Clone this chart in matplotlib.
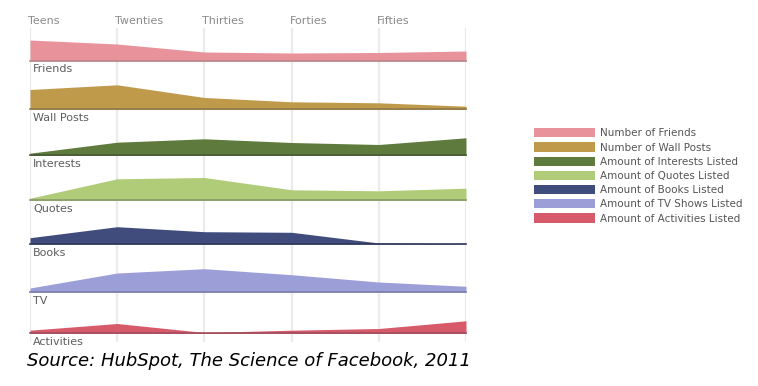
import matplotlib
matplotlib.use("Agg")
import matplotlib.pyplot as plt
from matplotlib.patches import Patch

ages = ["Teens", "Twenties", "Thirties", "Forties", "Fifties", ""]
rows = ["Friends", "Wall Posts", "Interests", "Quotes", "Books", "TV", "Activities"]
legend_names = ["Number of Friends", "Number of Wall Posts", "Amount of Interests Listed",
                "Amount of Quotes Listed", "Amount of Books Listed", "Amount of TV Shows Listed",
                "Amount of Activities Listed"]
friends = [21, 17, 9, 8, 8.5, 10]
wall_posts = [20, 24.7, 12, 7.7, 6.7, 3.3]
interests = [2.3, 13.3, 16.7, 13, 11, 17.7]
quotes = [2.3, 21.7, 23, 10.7, 9.7, 12.3]
books = [6.3, 17.3, 12.3, 11.7, 1, 0.3]
tv = [4, 19, 23.3, 17.3, 10, 5.7]
activities = [3.3, 10, 1, 3.3, 5, 12.7]
series = [friends, wall_posts, interests, quotes, books, tv, activities]

colors = ["#E8939B", "#BE9A4A", "#5E7A3C", "#B0CC78", "#404C7C", "#9C9ED8", "#D65A69"]
edge = ["#B8868A", "#8E7A4E", "#4A5A35", "#8A9A6A", "#30385A", "#7A7CA8", "#A05060"]
baselines = [61, 109.5, 155.5, 200.5, 244, 292, 333.5]

W, H = 758, 386
fig = plt.figure(figsize=(W / 100, H / 100), dpi=100)
x0, x1 = 30, 466

def frac(left, top, w, h):
    return [left / W, 1 - (top + h) / H, w / W, h / H]

# background grid
bg = fig.add_axes(frac(x0, 28, x1 - x0, 314))
bg.set_xlim(0, 5)
bg.set_ylim(0, 1)
bg.axis("off")
for i in range(len(ages)):
    bg.axvline(i, color="#EBEBEB", lw=1.6, zorder=0)
for i, a in enumerate(ages):
    fig.text((x0 + i * (x1 - x0) / 5 - 2) / W, 1 - 21 / H, a, ha="left", va="center",
             fontsize=8, color="#8A8A8A")

band_h = 26
xs = list(range(len(ages)))
for k, vals in enumerate(series):
    ax = fig.add_axes(frac(x0, baselines[k] - band_h, x1 - x0, band_h))
    ax.set_xlim(0, 5)
    ax.set_ylim(0, band_h)
    ax.axis("off")
    ax.patch.set_alpha(0)
    ax.fill_between(xs, 0, vals, color=colors[k], lw=0)
    ax.plot([0, 5], [0.3, 0.3], color=edge[k], lw=1.2, clip_on=False)
    fig.text(33 / W, 1 - (baselines[k] + 8.5) / H, rows[k], ha="left", va="center",
             fontsize=8, color="#5E5E5E", fontweight="medium")

handles = [Patch(facecolor=c, edgecolor="none") for c in colors]
fig.legend(handles, legend_names, loc="upper left", bbox_to_anchor=(530 / W, 1 - 124 / H),
           frameon=False, fontsize=7.5, labelcolor="#555555", handlelength=5.8,
           handleheight=1.0, labelspacing=0.38, handletextpad=0.5, borderaxespad=0)

fig.text(27 / W, 1 - 361 / H, "Source: HubSpot, The Science of Facebook, 2011",
         ha="left", va="center", fontsize=13, style="italic", color="black")

fig.savefig("out.png", dpi=100)
